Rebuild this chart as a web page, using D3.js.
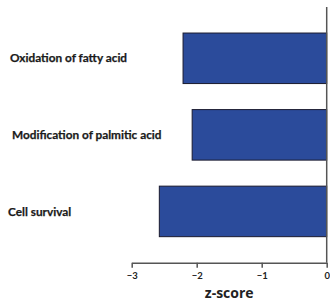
<!DOCTYPE html>
<html><head><meta charset="utf-8">
<script src="https://cdn.jsdelivr.net/npm/d3@7"></script>
<style>body{margin:0;background:#fff;}svg{display:block;}</style>
</head><body>
<script>
const categories = ["Oxidation of fatty acid", "Modification of palmitic acid", "Cell survival"];
const zscores = [-2.21, -2.07, -2.575];
const tickValues = [-3, -2, -1, 0];
const axisTitle = "z-score";

const W = 330, H = 305;
const svg = d3.select("body").append("svg").attr("width", W).attr("height", H);

const x = d3.scaleLinear().domain([-3, 0]).range([131.7, 326.7]);
const y = d3.scaleBand().domain(categories).range([7, 262.7]).paddingInner(0.34).paddingOuter(0.34);

svg.selectAll("rect.bar").data(categories).enter().append("rect")
  .attr("class", "bar")
  .attr("x", (d, i) => x(zscores[i]))
  .attr("y", d => y(d))
  .attr("width", (d, i) => x(0) - x(zscores[i]))
  .attr("height", y.bandwidth())
  .attr("fill", "#2b4b9b")
  .attr("stroke", "#1a1a2e")
  .attr("stroke-width", 1);

// vertical zero line
svg.append("line")
  .attr("x1", x(0)).attr("x2", x(0))
  .attr("y1", 7).attr("y2", 262.7)
  .attr("stroke", "#555").attr("stroke-width", 1.5);

const xAxis = d3.axisBottom(x).tickValues(tickValues).tickSize(5).tickSizeOuter(0).tickFormat(d3.format("d"));
const gx = svg.append("g").attr("transform", "translate(0,262.7)").call(xAxis);
gx.select(".domain").attr("stroke", "#555").attr("stroke-width", 1.5);
gx.selectAll(".tick line").attr("stroke", "#555").attr("stroke-width", 1.5);
gx.selectAll(".tick text").attr("font-family", "Lato, sans-serif").attr("font-size", 9.5).attr("font-weight", "bold").attr("fill", "#222").attr("dy", "0.9em");

svg.append("text")
  .attr("x", x(-1.5)).attr("y", 298)
  .attr("text-anchor", "middle")
  .attr("font-family", "Open Sans, sans-serif")
  .attr("font-weight", "bold")
  .attr("font-size", 14)
  .attr("fill", "#222")
  .text(axisTitle);

const labelX = [10, 12, 8];
svg.selectAll("text.cat").data(categories).enter().append("text")
  .attr("class", "cat")
  .attr("x", (d, i) => labelX[i])
  .attr("y", d => y(d) + y.bandwidth() / 2)
  .attr("dy", "0.35em")
  .attr("font-family", "Lato, sans-serif")
  .attr("font-weight", "bold")
  .attr("font-size", 11.8)
  .attr("fill", "#1a1a1a")
  .attr("stroke", "#1a1a1a")
  .attr("stroke-width", 0.25)
  .text(d => d);
</script>
</body></html>
